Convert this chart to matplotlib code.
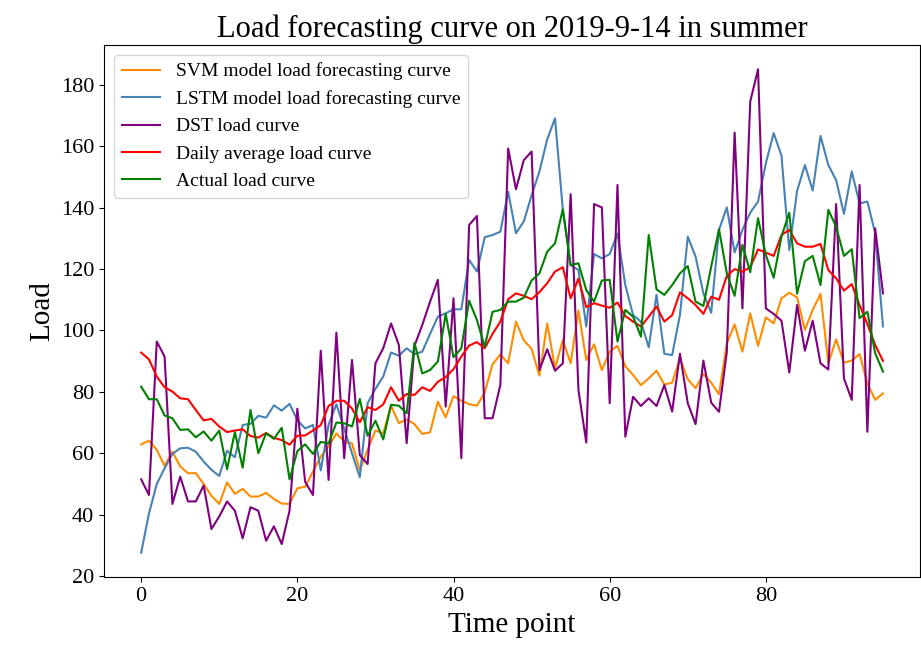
import matplotlib
matplotlib.use("Agg")
import matplotlib.pyplot as plt
import numpy as np

plt.rcParams['font.family'] = ['Liberation Serif', 'DejaVu Serif']

svm = [62.9, 64.1, 61.1, 55.9, 60.5, 55.7, 53.5, 53.5, 50.0, 46.1,
       43.5, 50.5, 46.8, 48.4, 45.9, 45.9, 47.1, 45.1, 43.6, 43.5,
       48.6, 49.1, 54.0, 58.9, 62.2, 66.5, 63.8, 63.2, 54.5, 61.1,
       67.4, 66.5, 75.5, 69.8, 71.0, 69.5, 66.3, 66.8, 76.8, 71.7,
       78.6, 77.1, 76.0, 75.5, 79.8, 89.0, 92.2, 89.3, 102.9, 96.8,
       94.0, 85.3, 102.3, 87.7, 96.9, 89.3, 106.5, 90.4, 95.5, 87.1,
       93.1, 95.0, 88.4, 85.5, 82.2, 84.4, 86.9, 82.4, 83.0, 90.9,
       84.1, 81.2, 85.8, 83.0, 79.2, 95.8, 102.0, 93.1, 105.6, 95.0,
       104.3, 102.3, 110.5, 112.3, 110.8, 100.2, 106.7, 111.9, 89.3, 97.1,
       89.5, 90.2, 92.3, 82.8, 77.4, 79.5]

lstm = [27.6, 40.4, 50.0, 55.1, 59.8, 61.6, 61.8, 60.5, 57.3, 54.6,
        52.6, 60.8, 58.7, 69.2, 69.6, 72.2, 71.6, 75.6, 73.9, 76.1,
        70.8, 68.1, 69.2, 54.4, 69.3, 76.0, 68.0, 60.0, 52.2, 76.3,
        81.0, 85.0, 92.8, 91.8, 94.2, 92.3, 93.1, 98.9, 104.5, 105.6,
        106.9, 106.9, 123.0, 119.2, 130.4, 131.1, 132.2, 145.2, 131.7, 135.5,
        144.0, 151.8, 162.3, 169.1, 139.3, 121.3, 119.7, 101.3, 124.9, 123.5,
        124.9, 131.6, 114.8, 105.0, 102.9, 94.5, 111.6, 92.4, 92.0, 105.1,
        130.6, 124.1, 112.1, 105.8, 132.8, 140.1, 125.4, 132.8, 138.4, 142.0,
        154.5, 164.3, 157.0, 126.2, 145.5, 153.9, 145.6, 163.4, 153.9, 149.0,
        138.0, 151.8, 141.4, 142.0, 131.7, 101.3]

dst = [51.5, 46.4, 96.4, 91.5, 43.5, 52.4, 44.3, 44.3, 49.5, 35.3,
       39.4, 44.3, 41.3, 32.3, 42.4, 41.3, 31.5, 36.2, 30.4, 41.3,
       74.5, 50.7, 46.4, 93.4, 51.3, 99.3, 58.4, 90.4, 59.4, 56.5,
       89.3, 94.2, 102.3, 95.3, 63.3, 95.0, 101.8, 109.4, 116.5, 75.2,
       110.5, 58.4, 134.4, 137.3, 71.4, 71.4, 82.3, 159.3, 146.0, 155.5,
       158.3, 87.1, 93.9, 86.9, 89.3, 144.4, 80.6, 63.5, 141.2, 140.1,
       76.3, 147.4, 65.4, 78.4, 75.4, 77.9, 75.4, 82.2, 73.6, 92.4,
       76.3, 69.5, 90.2, 76.5, 73.5, 93.0, 164.5, 107.2, 174.6, 185.1,
       107.2, 105.4, 103.2, 86.3, 108.3, 93.4, 103.2, 89.3, 87.3, 141.2,
       84.4, 77.4, 147.4, 67.0, 133.3, 112.1]

daily_avg = [92.8, 90.6, 85.0, 81.5, 80.1, 77.9, 77.6, 74.1, 70.7, 71.2,
             68.7, 66.9, 67.4, 67.8, 65.6, 65.1, 66.6, 65.0, 64.3, 62.8,
             65.7, 65.8, 67.4, 69.2, 75.4, 77.1, 77.1, 74.6, 70.1, 75.0,
             74.1, 75.9, 81.5, 77.1, 79.3, 79.0, 81.5, 80.3, 83.3, 84.8,
             87.4, 91.5, 95.1, 96.2, 94.2, 98.9, 102.9, 110.2, 112.1, 111.3,
             110.2, 112.5, 115.4, 119.2, 120.6, 110.5, 116.9, 107.6, 108.9, 108.1,
             107.4, 109.1, 104.7, 102.9, 101.3, 104.5, 107.8, 102.9, 105.0, 112.4,
             110.5, 108.3, 105.4, 111.0, 110.0, 117.8, 120.0, 119.2, 120.6, 126.4,
             125.4, 124.3, 131.1, 132.8, 128.4, 127.3, 127.3, 128.2, 119.7, 117.0,
             113.0, 115.1, 108.3, 102.1, 95.3, 90.1]

actual = [81.7, 77.6, 77.6, 72.3, 71.4, 67.6, 67.8, 65.2, 67.1, 64.1,
          67.4, 54.8, 66.9, 55.3, 74.1, 60.0, 66.5, 64.7, 68.3, 51.5,
          60.7, 62.9, 59.8, 63.7, 63.2, 70.0, 69.8, 68.7, 77.7, 65.7,
          70.6, 64.5, 75.8, 75.5, 73.0, 96.0, 86.0, 87.1, 89.9, 105.4,
          91.3, 94.2, 109.7, 103.4, 94.7, 106.1, 106.7, 109.4, 109.4, 110.7,
          116.3, 118.6, 125.7, 128.4, 139.5, 121.3, 121.9, 113.2, 109.4, 116.3,
          116.5, 96.4, 106.7, 104.5, 98.0, 131.1, 113.4, 111.6, 114.8, 118.6,
          121.0, 109.4, 108.0, 120.8, 133.0, 118.6, 111.3, 127.9, 119.0, 136.6,
          124.6, 117.2, 130.6, 138.4, 112.0, 122.6, 124.3, 114.8, 139.3, 133.8,
          124.3, 126.5, 104.0, 106.1, 92.6, 86.6]

labels = ["SVM model load forecasting curve",
          "LSTM model load forecasting curve",
          "DST load curve",
          "Daily average load curve",
          "Actual load curve"]
colors = ["darkorange", "steelblue", "purple", "red", "green"]

x = np.arange(len(actual))

fig = plt.figure(figsize=(9.21, 6.53), dpi=100)
ax = fig.add_axes([0.113, 0.116, 0.886, 0.815])
for series, lab, col in zip([svm, lstm, dst, daily_avg, actual], labels, colors):
    ax.plot(x, series, color=col, label=lab, linewidth=1.5)

ax.set_ylim(19.6, 193)
ax.set_yticks(np.arange(20, 181, 20))
ax.set_title("Load forecasting curve on 2019-9-14 in summer", fontsize=22)
ax.set_xlabel("Time point", fontsize=21)
ax.set_ylabel("Load", fontsize=21)
ax.tick_params(labelsize=16)
ax.legend(loc="upper left", fontsize=14)

fig.savefig("out.png", dpi=100)
